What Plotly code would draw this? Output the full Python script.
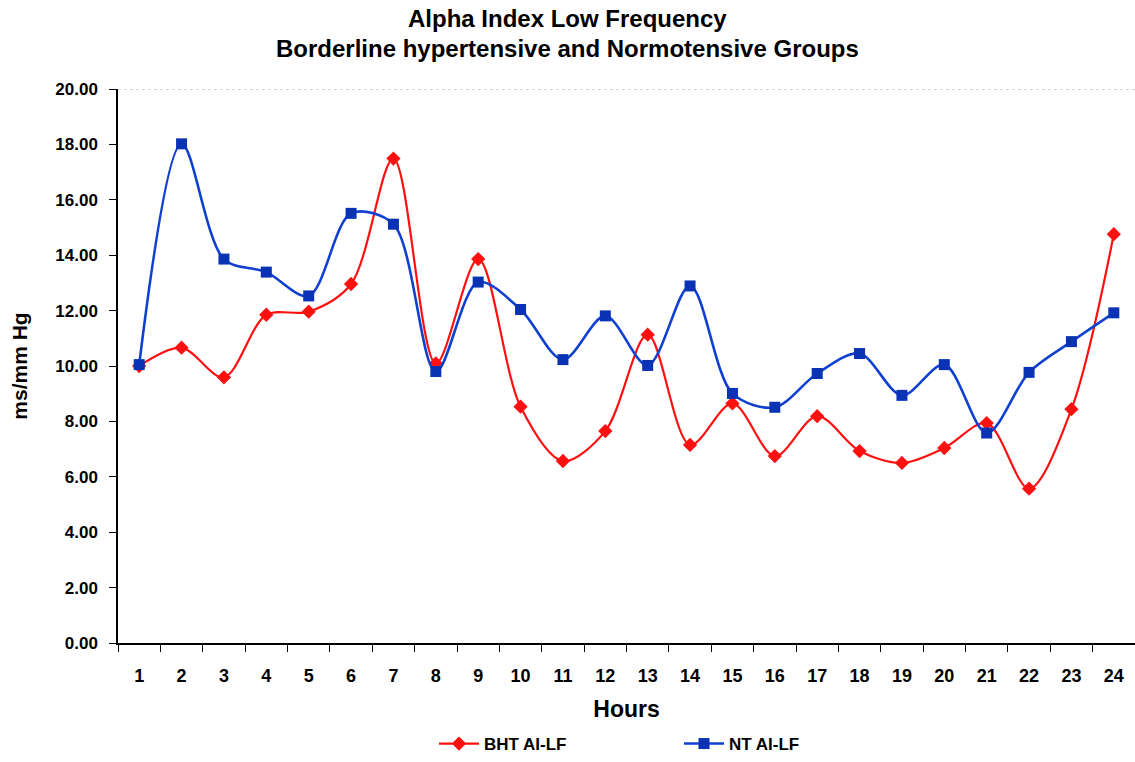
import plotly.graph_objects as go

hours = [str(h) for h in range(1, 25)]
bht_ai_lf = [10.00, 10.66, 9.59, 11.85, 11.96, 12.96, 17.49, 10.09, 13.86, 8.53,
             6.57, 7.65, 11.13, 7.15, 8.65, 6.75, 8.19, 6.93, 6.50, 7.04,
             7.94, 5.57, 8.44, 14.76]
nt_ai_lf = [10.05, 18.02, 13.86, 13.39, 12.53, 15.51, 15.12, 9.80, 13.03, 12.04,
            10.23, 11.81, 10.02, 12.89, 9.01, 8.51, 9.73, 10.45, 8.94, 10.05,
            7.58, 9.77, 10.88, 11.92]
y_ticks = [0, 2, 4, 6, 8, 10, 12, 14, 16, 18, 20]

FONT = "Arial, Liberation Sans, sans-serif"

fig = go.Figure()
fig.add_trace(go.Scatter(
    x=hours, y=bht_ai_lf, name="BHT AI-LF", mode="lines+markers",
    line=dict(color="#FF1010", width=2.2, shape="spline", smoothing=0.9),
    marker=dict(symbol="diamond", size=11, color="#FF1010"),
))
fig.add_trace(go.Scatter(
    x=hours, y=nt_ai_lf, name="NT AI-LF", mode="lines+markers",
    line=dict(color="#1040D0", width=2.6, shape="spline", smoothing=0.9),
    marker=dict(symbol="square", size=11, color="#0A32B4"),
))

fig.update_layout(
    width=1135, height=762,
    margin=dict(l=118, r=0, t=89, b=116),
    paper_bgcolor="white", plot_bgcolor="white",
    font=dict(family=FONT, color="black"),
    showlegend=True,
    legend=dict(orientation="h", x=(434 - 118) / 1017, xanchor="left", y=-0.183, yanchor="middle",
                font=dict(size=17, family=FONT, color="black", weight="bold"), itemwidth=40,
                entrywidth=190, traceorder="normal"),
    xaxis=dict(
        type="category", range=[-0.5, 23.5],
        showline=True, linecolor="black", linewidth=1.5,
        ticks="outside", tickson="boundaries", ticklen=7, tickcolor="black",
        showgrid=False, tickfont=dict(size=18, family=FONT, weight="bold"),
        ticklabelstandoff=16,
        title=dict(text="Hours", font=dict(size=23, family=FONT, weight="bold"), standoff=16),
    ),
    yaxis=dict(
        range=[0, 20], tickvals=y_ticks, tickformat=".2f",
        showline=True, linecolor="black", linewidth=1.5,
        ticks="outside", ticklen=7, tickcolor="black",
        showgrid=False, zeroline=False, tickfont=dict(size=17, family=FONT, weight="bold"),
        ticklabelstandoff=8,
        title=dict(text="ms/mm Hg", font=dict(size=21, family=FONT, weight="bold"), standoff=22),
    ),
    shapes=[dict(type="line", xref="paper", yref="y", x0=0, x1=1, y0=20, y1=20,
                 line=dict(color="#A8A8C8", width=1, dash="dot"))],
    annotations=[
        dict(text="Alpha Index Low Frequency", xref="paper", yref="paper",
             x=(567 - 118) / 1017, y=(646 - 18) / 557, xanchor="center", yanchor="middle",
             showarrow=False, font=dict(size=24, family=FONT, weight="bold")),
        dict(text="Borderline hypertensive and Normotensive Groups", xref="paper", yref="paper",
             x=(567 - 118) / 1017, y=(646 - 48) / 557, xanchor="center", yanchor="middle",
             showarrow=False, font=dict(size=24, family=FONT, weight="bold")),
    ],
)

fig.write_html("out.html")
